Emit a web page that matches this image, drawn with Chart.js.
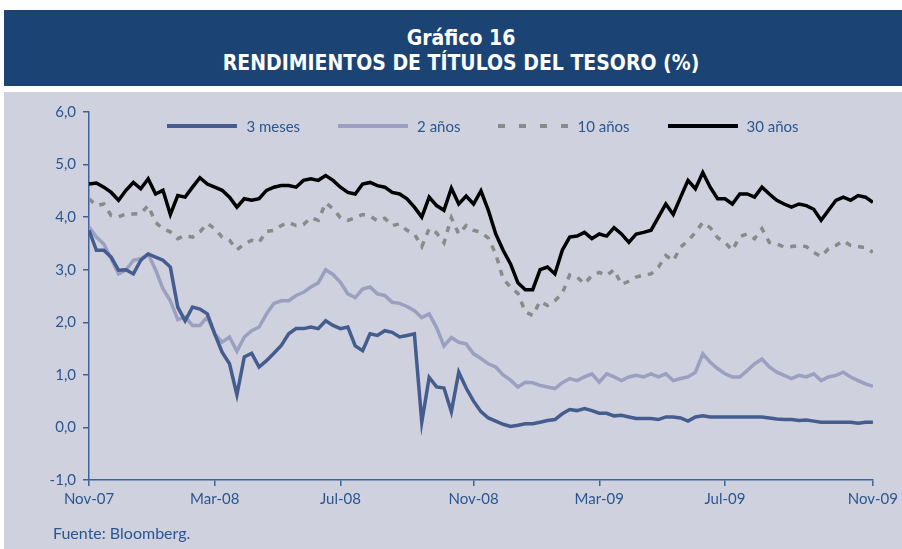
<!DOCTYPE html>
<html>
<head>
<meta charset="utf-8">
<script src="https://cdn.jsdelivr.net/npm/chart.js@4.4.0/dist/chart.umd.min.js"></script>
<style>
  html, body { margin: 0; padding: 0; background: #fff; }
  #wrap { position: relative; width: 902px; height: 549px; overflow: hidden; }
  #banner {
    position: absolute; left: 4px; top: 10px; width: 898px; height: 76px;
    background: #1b4474; color: #fff; text-align: center;
    font-family: "Liberation Sans Narrow", "DejaVu Sans Condensed", sans-serif;
    font-weight: bold; font-size: 21px; line-height: 25px; box-sizing: border-box; padding: 16px 0 0 16px;
  }
  #panel { position: absolute; left: 4px; top: 92px; width: 898px; height: 457px; background: #cfd1de; }
  #chart { position: absolute; left: 0; top: 0; }
  #legend {
    position: absolute; left: 89px; top: 116px; width: 788px; height: 20px;
    display: flex; justify-content: center; align-items: center; gap: 38px;
    font-family: Lato, "Open Sans", sans-serif; font-size: 15px; color: #2a5790;
  }
  #legend .item { display: flex; align-items: center; }
  #legend .swatch { width: 70px; height: 4px; margin-right: 9px; }
  #source {
    position: absolute; left: 53px; top: 523px;
    font-family: Lato, "Open Sans", sans-serif; font-size: 16px; color: #2a5790;
  }
</style>
</head>
<body>
<div id="wrap">
  <div id="banner">Gráfico 16<br>RENDIMIENTOS DE TÍTULOS DEL TESORO (%)</div>
  <div id="panel"></div>
  <canvas id="chart" width="902" height="549"></canvas>
  <div id="legend"></div>
  <div id="source">Fuente: Bloomberg.</div>
</div>
<script>
// weekly readings, Nov-07 .. Nov-09 (107 points)
var seriesNames = ["3 meses", "2 años", "10 años", "30 años"];

var threeMonth = [
  3.75, 3.37, 3.37, 3.24, 2.99, 3.00, 2.92, 3.18, 3.30, 3.24, 3.18, 3.05, 2.29, 2.03, 2.29, 2.25, 2.16, 1.78, 1.43, 1.21,
  0.62, 1.34, 1.41, 1.15, 1.27, 1.41, 1.56, 1.78, 1.88, 1.88, 1.91, 1.88, 2.03, 1.94, 1.88, 1.91, 1.55, 1.46, 1.78, 1.75,
  1.84, 1.81, 1.72, 1.75, 1.78, 0.10, 0.95, 0.77, 0.75, 0.30, 1.05, 0.75, 0.50, 0.30, 0.18, 0.12, 0.06, 0.02, 0.04, 0.07,
  0.07, 0.10, 0.13, 0.15, 0.26, 0.34, 0.32, 0.36, 0.32, 0.27, 0.27, 0.22, 0.23, 0.20, 0.17, 0.17, 0.17, 0.15, 0.20, 0.20,
  0.18, 0.12, 0.20, 0.22, 0.20, 0.20, 0.20, 0.20, 0.20, 0.20, 0.20, 0.20, 0.18, 0.16, 0.15, 0.15, 0.13, 0.14, 0.12, 0.10,
  0.10, 0.10, 0.10, 0.10, 0.08, 0.10, 0.10
];
var twoYear = [
  3.81, 3.62, 3.49, 3.21, 2.92, 2.99, 3.18, 3.21, 3.30, 3.00, 2.64, 2.41, 2.05, 2.10, 1.94, 1.94, 2.10, 1.78, 1.62, 1.72,
  1.45, 1.72, 1.84, 1.91, 2.16, 2.36, 2.41, 2.41, 2.51, 2.57, 2.67, 2.75, 3.00, 2.91, 2.76, 2.54, 2.47, 2.63, 2.67, 2.54,
  2.51, 2.38, 2.36, 2.30, 2.22, 2.09, 2.16, 1.90, 1.55, 1.71, 1.62, 1.59, 1.40, 1.31, 1.21, 1.15, 1.00, 0.90, 0.77, 0.86,
  0.85, 0.80, 0.77, 0.74, 0.85, 0.93, 0.89, 0.96, 1.02, 0.86, 1.02, 0.96, 0.89, 0.96, 0.99, 0.96, 1.02, 0.96, 1.02, 0.89,
  0.93, 0.96, 1.05, 1.40, 1.24, 1.12, 1.02, 0.96, 0.96, 1.08, 1.21, 1.30, 1.15, 1.05, 0.99, 0.93, 0.99, 0.96, 1.02, 0.89,
  0.96, 0.99, 1.05, 0.96, 0.89, 0.83, 0.78
];
var tenYear = [
  4.35, 4.22, 4.25, 4.03, 4.01, 4.06, 4.06, 4.07, 4.22, 3.90, 3.78, 3.72, 3.59, 3.65, 3.62, 3.72, 3.88, 3.78, 3.62, 3.56,
  3.38, 3.49, 3.56, 3.52, 3.73, 3.75, 3.84, 3.90, 3.84, 3.86, 3.99, 3.94, 4.27, 4.16, 3.99, 3.94, 3.99, 4.05, 4.02, 3.93,
  3.98, 3.84, 3.87, 3.75, 3.68, 3.44, 3.78, 3.70, 3.51, 3.99, 3.68, 3.84, 3.75, 3.71, 3.60, 3.30, 2.83, 2.67, 2.55, 2.20,
  2.13, 2.40, 2.32, 2.41, 2.55, 2.90, 2.86, 2.73, 2.89, 2.95, 2.89, 3.00, 2.72, 2.78, 2.86, 2.90, 2.92, 3.05, 3.27, 3.17,
  3.43, 3.55, 3.71, 3.90, 3.80, 3.61, 3.52, 3.37, 3.63, 3.68, 3.59, 3.78, 3.52, 3.49, 3.43, 3.44, 3.46, 3.44, 3.33, 3.25,
  3.40, 3.46, 3.55, 3.46, 3.44, 3.42, 3.33
];
var thirtyYear = [
  4.63, 4.65, 4.57, 4.47, 4.32, 4.51, 4.66, 4.54, 4.73, 4.44, 4.51, 4.05, 4.41, 4.38, 4.57, 4.75, 4.63, 4.57, 4.51, 4.38,
  4.19, 4.35, 4.32, 4.35, 4.51, 4.57, 4.60, 4.60, 4.57, 4.70, 4.73, 4.70, 4.79, 4.70, 4.57, 4.47, 4.44, 4.63, 4.66, 4.60,
  4.57, 4.47, 4.44, 4.35, 4.19, 4.00, 4.38, 4.22, 4.13, 4.55, 4.25, 4.40, 4.25, 4.50, 4.13, 3.68, 3.37, 3.11, 2.75, 2.62,
  2.62, 3.00, 3.05, 2.92, 3.37, 3.62, 3.64, 3.71, 3.59, 3.68, 3.64, 3.80, 3.68, 3.52, 3.68, 3.71, 3.75, 4.00, 4.25, 4.05,
  4.38, 4.70, 4.54, 4.85, 4.57, 4.35, 4.35, 4.25, 4.44, 4.44, 4.38, 4.57, 4.44, 4.32, 4.25, 4.19, 4.25, 4.22, 4.15, 3.94,
  4.13, 4.32, 4.38, 4.32, 4.41, 4.38, 4.28
];

var tickLabels = ["Nov-07", "Mar-08", "Jul-08", "Nov-08", "Mar-09", "Jul-09", "Nov-09"];
var tickWeeks = [0, 17, 34, 52, 69, 86, 106];

var blue = "#2a5790";
var axisBlue = "#3e6399";
var colors = ["#445c8e", "#9b9fc0", "#8a8a8a", "#000000"];

function pts(arr) {
  return arr.map(function (v, i) { return { x: i, y: v }; });
}

var values = [threeMonth, twoYear, tenYear, thirtyYear];
var datasets = values.map(function (arr, k) {
  var ds = { label: seriesNames[k], data: pts(arr), borderColor: colors[k], backgroundColor: colors[k], borderWidth: 3.5 };
  if (k === 2) ds.borderDash = [6, 7];
  return ds;
});

// html legend (chart.js can't put a horizontal legend inside the plot)
var legend = document.getElementById("legend");
datasets.forEach(function (ds, k) {
  var item = document.createElement("div");
  item.className = "item";
  var sw = document.createElement("div");
  sw.className = "swatch";
  sw.style.background = ds.borderDash
    ? "repeating-linear-gradient(to right, " + colors[k] + " 0 7px, transparent 7px 21px)"
    : colors[k];
  var txt = document.createElement("span");
  txt.textContent = ds.label;
  item.appendChild(sw);
  item.appendChild(txt);
  legend.appendChild(item);
});

new Chart(document.getElementById("chart"), {
  type: 'line',
  data: { datasets: datasets },
  options: {
    responsive: false,
    animation: false,
    layout: { padding: { top: 112, right: 25, bottom: 0, left: 0 } },
    elements: { point: { radius: 0 }, line: { tension: 0 } },
    plugins: {
      tooltip: { enabled: false },
      legend: { display: false }
    },
    scales: {
      x: {
        type: 'linear',
        min: 0,
        max: 106,
        afterFit: function (s) { s.height = 69; },
        afterBuildTicks: function (s) { s.ticks = tickWeeks.map(function (w) { return { value: w }; }); },
        border: { display: true, color: axisBlue, width: 1.5 },
        grid: { drawOnChartArea: false, drawTicks: true, tickLength: 6, color: axisBlue, lineWidth: 1.5 },
        ticks: {
          autoSkip: false,
          maxRotation: 0,
          padding: 4,
          color: blue,
          font: { family: "Lato", size: 15 },
          callback: function (v) { var k = tickWeeks.indexOf(v); return k < 0 ? null : tickLabels[k]; }
        }
      },
      y: {
        min: -1,
        max: 6,
        afterFit: function (s) { s.width = 89; },
        border: { display: true, color: axisBlue, width: 1.5 },
        grid: { drawOnChartArea: false, drawTicks: true, tickLength: 6, color: axisBlue, lineWidth: 1.5 },
        ticks: {
          stepSize: 1,
          padding: 7,
          color: blue,
          font: { family: "Lato", size: 15 },
          callback: function (v) { return v.toFixed(1).replace('.', ','); }
        }
      }
    }
  }
});
</script>
</body>
</html>
